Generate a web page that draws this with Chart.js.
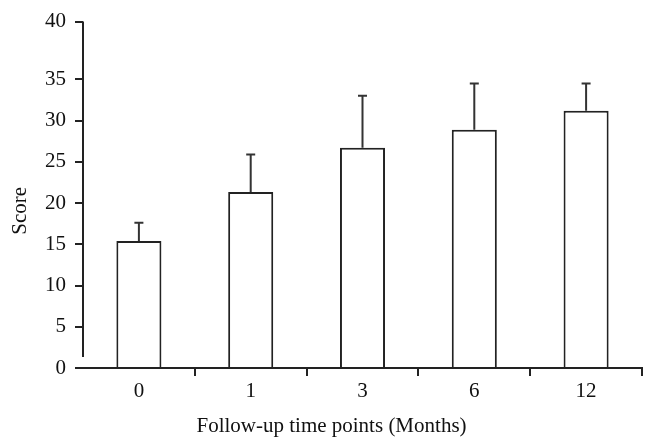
<!DOCTYPE html>
<html>
<head>
<meta charset="utf-8">
<script src="https://cdn.jsdelivr.net/npm/chart.js@4"></script>
<style>
  body { margin: 0; background: #fff; }
</style>
</head>
<body>
<canvas id="myChart" width="648" height="440"></canvas>
<script>
const categories = ['0', '1', '3', '6', '12'];
const means = [15.4, 21.35, 26.7, 28.9, 31.2];
const sds = [2.2, 4.55, 6.3, 5.6, 3.3];
// top tick sits at 42 in the original drawing but is labelled 40
const yTickValues = [0, 5, 10, 15, 20, 25, 30, 35, 42];
const yTickLabels = ['0', '5', '10', '15', '20', '25', '30', '35', '40'];
const xTitle = 'Follow-up time points (Months)';
const yTitle = 'Score';

const ink = '#222';
const serif = "'Liberation Serif', 'Times New Roman', serif";

const errorBars = {
  id: 'errorBars',
  afterDatasetsDraw(chart) {
    const ctx = chart.ctx;
    const meta = chart.getDatasetMeta(0);
    const y = chart.scales.y;
    ctx.save();
    ctx.strokeStyle = '#333';
    ctx.lineWidth = 2;
    meta.data.forEach(function (bar, i) {
      const top = y.getPixelForValue(means[i] + sds[i]);
      const base = y.getPixelForValue(means[i]);
      ctx.beginPath();
      ctx.moveTo(bar.x, base);
      ctx.lineTo(bar.x, top);
      ctx.moveTo(bar.x - 4.5, top);
      ctx.lineTo(bar.x + 4.5, top);
      ctx.stroke();
    });
    ctx.restore();
  }
};

// y axis line stops short of the x axis, titles sit off-centre like the original
const axisExtras = {
  id: 'axisExtras',
  afterDraw(chart) {
    const ctx = chart.ctx;
    const y = chart.scales.y;
    const x = chart.scales.x;
    ctx.save();
    ctx.strokeStyle = ink;
    ctx.lineWidth = 2;
    ctx.beginPath();
    ctx.moveTo(y.right, y.top);
    ctx.lineTo(y.right, y.bottom - 11);
    ctx.stroke();

    ctx.fillStyle = '#111';
    ctx.font = '21px ' + serif;
    ctx.textAlign = 'center';
    ctx.textBaseline = 'middle';
    ctx.fillText(xTitle, (x.left + x.right) / 2 - 31, x.bottom - 14);

    ctx.translate(20, (y.top + y.bottom) / 2 + 16);
    ctx.rotate(-Math.PI / 2);
    ctx.fillText(yTitle, 0, 0);
    ctx.restore();
  }
};

const data = {
  labels: categories,
  datasets: [{
    data: means,
    backgroundColor: '#fff',
    borderColor: ink,
    borderWidth: 2,
    barPercentage: 0.403,
    categoryPercentage: 1
  }]
};

const config = {
  type: 'bar',
  data,
  options: {
    responsive: false,
    animation: false,
    layout: { padding: { top: 15, right: 6, left: 0, bottom: 0 } },
    plugins: {
      legend: { display: false },
      tooltip: { enabled: false }
    },
    scales: {
      x: {
        offset: true,
        grid: {
          offset: true,
          drawOnChartArea: false,
          tickLength: 8,
          lineWidth: 2,
          color: (c) => c.index === 0 ? 'rgba(0,0,0,0)' : ink
        },
        border: { display: true, color: ink, width: 2 },
        ticks: {
          color: '#111',
          padding: 3,
          maxRotation: 0,
          font: { family: serif, size: 21 }
        },
        afterFit: (s) => { s.height = 72; }
      },
      y: {
        min: 0,
        max: 42,
        afterBuildTicks: (s) => {
          s.ticks = yTickValues.map((v) => ({ value: v }));
        },
        grid: {
          drawOnChartArea: false,
          tickLength: 8,
          lineWidth: 2,
          color: ink
        },
        border: { display: false },
        ticks: {
          color: '#111',
          padding: 9,
          font: { family: serif, size: 21 },
          callback: (v, i) => yTickLabels[i]
        },
        afterFit: (s) => { s.width = 83; }
      }
    }
  },
  plugins: [errorBars, axisExtras]
};

const myChart = new Chart(document.getElementById('myChart'), config);
</script>
</body>
</html>
